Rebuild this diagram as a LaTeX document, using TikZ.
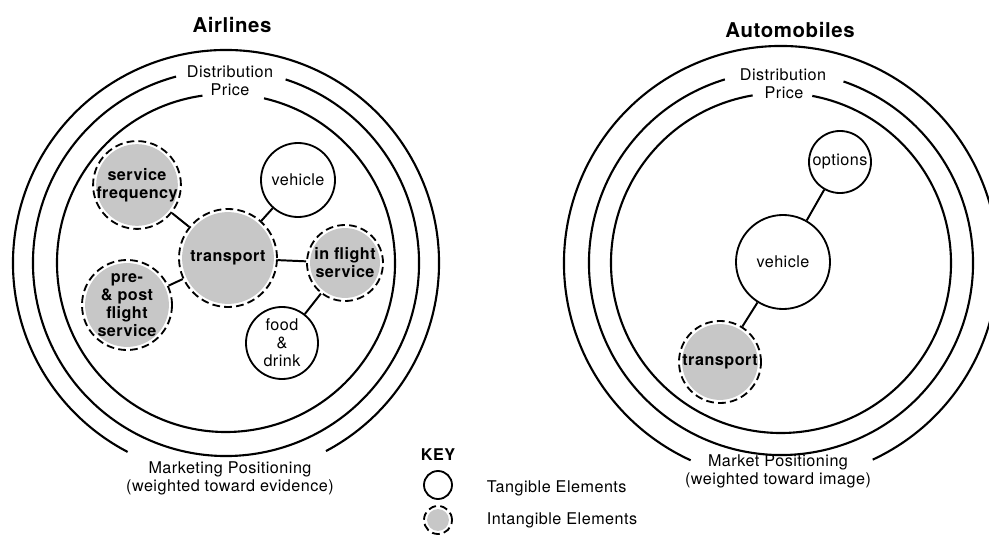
\documentclass[tikz,border=0pt]{standalone}
\usepackage{fontspec}
\setmainfont{TeX Gyre Heros}[LetterSpace=3]
\usetikzlibrary{calc}
\definecolor{halftone}{gray}{0.78}

\tikzset{
	ring/.style={line width=1.5pt},
	link/.style={line width=1.4pt},
	txt/.style={align=center, font=\fontsize{11.5}{12.8}\selectfont},
	title/.style={font=\bfseries\fontsize{14.5}{16}\selectfont},
	tangible/.style={circle, draw, line width=1.3pt, fill=white, inner sep=0pt, txt},
	intangible/.style={tangible, dash pattern=on 5.5pt off 3pt, font=\bfseries\fontsize{11.5}{12.8}\selectfont,
		path picture={\fill[halftone] let \p1=(path picture bounding box.north), \p2=(path picture bounding box.center)
			in (\p2) circle[radius={\y1-\y2-2.2pt}];}},
}

\begin{document}
\begin{tikzpicture}[x=0.025cm, y=0.025cm]
\useasboundingbox (0,0) rectangle (989,535);

\coordinate (lc) at (226,272);
\coordinate (rc) at (781,272);

% rings, each with a gap for its label
\foreach \r/\a/\b in {213/-62/242.5, 193/105/432, 169/98/437} {
	\draw[ring] (lc) ++(\a:\r) arc[start angle=\a, end angle=\b, radius=\r];
}
\foreach \r/\a/\b in {217/-65/245.4, 192/107/431, 170/99.6/439.4} {
	\draw[ring] (rc) ++(\a:\r) arc[start angle=\a, end angle=\b, radius=\r];
}

% airlines
\node[title] (airlines) at (232,510) {Airlines};
\node[txt] (ldist) at (230,463) {Distribution};
\node[txt] (lprice) at (230,445) {Price};
\node[txt] (lpos) at (230,57) {Marketing Positioning\\(weighted toward evidence)};

\node[intangible, minimum size=2.45cm] (ltrans) at (228,277) {transport};
\node[intangible, minimum size=2.1cm] (freq) at (137,350) {service\\frequency};
\node[intangible, minimum size=2.25cm] (prepost) at (127,230) {pre-\\\& post\\flight\\service};
\node[intangible, minimum size=1.9cm] (inflight) at (345,272) {in flight\\service};
\node[tangible, minimum size=1.85cm] (lveh) at (298,355) {vehicle};
\node[tangible, minimum size=1.8cm] (food) at (282,192) {food\\\&\\drink};

\draw[link] (freq) -- (ltrans);
\draw[link] (lveh) -- (ltrans);
\draw[link] (prepost) -- (ltrans);
\draw[link] (ltrans) -- (inflight);
\draw[link] (inflight) -- (food);

% automobiles
\node[title] (autos) at (790,505) {Automobiles};
\node[txt] (rdist) at (783,460) {Distribution};
\node[txt] (rprice) at (784,442) {Price};
\node[txt] (rpos) at (778,64) {Market Positioning\\(weighted toward image)};

\node[tangible, minimum size=1.55cm] (opts) at (840,373) {options};
\node[tangible, minimum size=2.35cm] (rveh) at (783,273) {vehicle};
\node[intangible, minimum size=2.05cm] (rtrans) at (720,173) {transport};

\draw[link] (opts) -- (rveh);
\draw[link] (rveh) -- (rtrans);

% key
\node[txt, font=\bfseries\fontsize{11.5}{12.8}\selectfont] (key) at (438,80) {KEY};
\node[tangible, minimum size=0.7cm] (ktan) at (438,50) {};
\node[intangible, minimum size=0.7cm] (kint) at (438,15) {};
\node[txt, anchor=west] at (482,47) {Tangible Elements};
\node[txt, anchor=west] at (482,15) {Intangible Elements};
\end{tikzpicture}
\end{document}
